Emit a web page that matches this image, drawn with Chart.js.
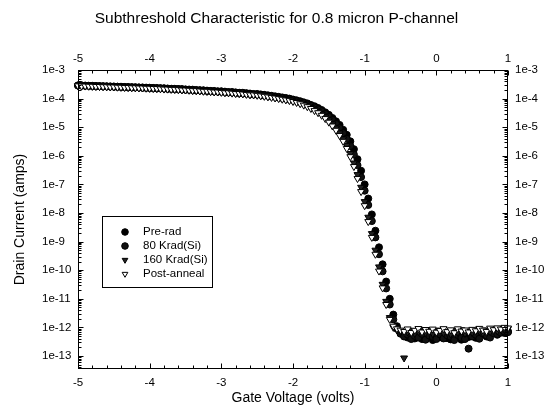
<!DOCTYPE html>
<html>
<head>
<meta charset="utf-8">
<script src="https://cdn.jsdelivr.net/npm/chart.js@4"></script>
<style>
  html, body { margin: 0; padding: 0; background: #fff; }
</style>
</head>
<body>
<canvas id="chart" width="553" height="417"></canvas>
<script>
// Gate voltage sweep (volts)
const gateVoltage = [-5,-4.95,-4.9,-4.85,-4.8,-4.75,-4.7,-4.65,-4.6,-4.55,-4.5,-4.45,-4.4,-4.35,-4.3,-4.25,-4.2,-4.15,-4.1,-4.05,
  -4,-3.95,-3.9,-3.85,-3.8,-3.75,-3.7,-3.65,-3.6,-3.55,-3.5,-3.45,-3.4,-3.35,-3.3,-3.25,-3.2,-3.15,-3.1,-3.05,
  -3,-2.95,-2.9,-2.85,-2.8,-2.75,-2.7,-2.65,-2.6,-2.55,-2.5,-2.45,-2.4,-2.35,-2.3,-2.25,-2.2,-2.15,-2.1,-2.05,
  -2,-1.95,-1.9,-1.85,-1.8,-1.75,-1.7,-1.65,-1.6,-1.55,-1.5,-1.45,-1.4,-1.35,-1.3,-1.25,-1.2,-1.15,-1.1,-1.05,
  -1,-0.95,-0.9,-0.85,-0.8,-0.75,-0.7,-0.65,-0.6,-0.55,-0.5,-0.45,-0.4,-0.35,-0.3,-0.25,-0.2,-0.15,-0.1,-0.05,
  0,0.05,0.1,0.15,0.2,0.25,0.3,0.35,0.4,0.45,0.5,0.55,0.6,0.65,0.7,0.75,0.8,0.85,0.9,0.95,1];

// Drain current (amps) for each run
const preRad = [2.9e-4,2.9e-4,2.85e-4,2.8e-4,2.8e-4,2.75e-4,2.75e-4,2.7e-4,2.7e-4,2.65e-4,
  2.65e-4,2.6e-4,2.6e-4,2.55e-4,2.55e-4,2.5e-4,2.5e-4,2.45e-4,2.45e-4,2.4e-4,
  2.4e-4,2.35e-4,2.35e-4,2.3e-4,2.3e-4,2.25e-4,2.2e-4,2.2e-4,2.15e-4,2.15e-4,
  2.1e-4,2.05e-4,2.05e-4,2.0e-4,1.95e-4,1.95e-4,1.9e-4,1.85e-4,1.85e-4,1.8e-4,
  1.8e-4,1.75e-4,1.7e-4,1.7e-4,1.65e-4,1.6e-4,1.6e-4,1.55e-4,1.5e-4,1.45e-4,
  1.45e-4,1.4e-4,1.35e-4,1.3e-4,1.25e-4,1.2e-4,1.15e-4,1.1e-4,1.05e-4,1.0e-4,
  9.3e-5,8.7e-5,8.1e-5,7.4e-5,6.8e-5,6.0e-5,5.4e-5,4.7e-5,4.0e-5,3.3e-5,
  2.7e-5,2.1e-5,1.6e-5,1.2e-5,8.1e-6,5.4e-6,3.2e-6,1.7e-6,7.6e-7,3.0e-7,
  1.0e-7,3.2e-8,8.9e-9,2.4e-9,6.3e-10,1.6e-10,4.0e-11,1.0e-11,2.8e-12,1.1e-12,
  6.5e-13,5.2e-13,4.4e-13,5.8e-13,4.1e-13,5.5e-13,3.9e-13,6.1e-13,4.7e-13,3.6e-13,
  5.3e-13,4.5e-13,6.0e-13,4.2e-13,3.8e-13,5.6e-13,4.9e-13,3.7e-13,5.1e-13,4.6e-13,
  5.9e-13,4.3e-13,5.4e-13,6.3e-13,4.8e-13,5.7e-13,6.6e-13,5.5e-13,7.0e-13,6.4e-13,
  7.2e-13];

const krad80 = [2.85e-4,2.85e-4,2.8e-4,2.8e-4,2.75e-4,2.75e-4,2.7e-4,2.7e-4,2.65e-4,2.65e-4,
  2.6e-4,2.6e-4,2.55e-4,2.55e-4,2.5e-4,2.5e-4,2.45e-4,2.45e-4,2.4e-4,2.4e-4,
  2.35e-4,2.35e-4,2.3e-4,2.3e-4,2.25e-4,2.2e-4,2.2e-4,2.15e-4,2.15e-4,2.1e-4,
  2.05e-4,2.05e-4,2.0e-4,1.95e-4,1.95e-4,1.9e-4,1.85e-4,1.85e-4,1.8e-4,1.75e-4,
  1.75e-4,1.7e-4,1.65e-4,1.65e-4,1.6e-4,1.55e-4,1.55e-4,1.5e-4,1.45e-4,1.4e-4,
  1.4e-4,1.35e-4,1.3e-4,1.25e-4,1.2e-4,1.15e-4,1.1e-4,1.05e-4,1.0e-4,9.5e-5,
  8.9e-5,8.3e-5,7.6e-5,7.0e-5,6.3e-5,5.6e-5,4.9e-5,4.2e-5,3.6e-5,2.9e-5,
  2.3e-5,1.8e-5,1.3e-5,9.3e-6,6.2e-6,3.9e-6,2.2e-6,1.1e-6,4.7e-7,1.8e-7,
  6.0e-8,1.9e-8,5.2e-9,1.4e-9,3.6e-10,9.1e-11,2.3e-11,6.3e-12,1.9e-12,9.0e-13,
  6.0e-13,4.8e-13,5.6e-13,3.9e-13,5.0e-13,4.4e-13,5.9e-13,3.7e-13,5.2e-13,4.6e-13,
  3.9e-13,5.7e-13,4.1e-13,5.3e-13,4.7e-13,3.6e-13,5.4e-13,4.3e-13,3.9e-13,1.8e-13,
  4.8e-13,5.5e-13,4.0e-13,6.1e-13,5.2e-13,4.4e-13,6.2e-13,5.8e-13,6.5e-13,7.1e-13,
  6.8e-13];

const krad160 = [2.8e-4,2.8e-4,2.75e-4,2.75e-4,2.7e-4,2.7e-4,2.65e-4,2.65e-4,2.6e-4,2.6e-4,
  2.55e-4,2.55e-4,2.5e-4,2.5e-4,2.45e-4,2.45e-4,2.4e-4,2.4e-4,2.35e-4,2.35e-4,
  2.3e-4,2.3e-4,2.25e-4,2.25e-4,2.2e-4,2.15e-4,2.15e-4,2.1e-4,2.1e-4,2.05e-4,
  2.0e-4,2.0e-4,1.95e-4,1.9e-4,1.9e-4,1.85e-4,1.8e-4,1.8e-4,1.75e-4,1.7e-4,
  1.7e-4,1.65e-4,1.6e-4,1.6e-4,1.55e-4,1.5e-4,1.5e-4,1.45e-4,1.4e-4,1.35e-4,
  1.35e-4,1.3e-4,1.25e-4,1.2e-4,1.15e-4,1.1e-4,1.05e-4,1.0e-4,9.5e-5,9.0e-5,
  8.3e-5,7.7e-5,7.0e-5,6.3e-5,5.6e-5,4.9e-5,4.2e-5,3.5e-5,2.9e-5,2.3e-5,
  1.8e-5,1.3e-5,9.3e-6,6.3e-6,3.9e-6,2.3e-6,1.2e-6,5.6e-7,2.2e-7,7.9e-8,
  2.5e-8,7.1e-9,1.9e-9,5.0e-10,1.3e-10,3.2e-11,8.1e-12,2.2e-12,1.0e-12,8.1e-13,
  7.4e-13,8.5e-14,6.9e-13,7.8e-13,6.2e-13,7.1e-13,8.3e-13,6.5e-13,7.6e-13,6.0e-13,
  7.3e-13,8.0e-13,6.4e-13,7.0e-13,5.8e-13,7.7e-13,6.7e-13,8.2e-13,6.1e-13,7.2e-13,
  6.6e-13,7.9e-13,7.4e-13,6.3e-13,8.1e-13,7.0e-13,8.6e-13,7.5e-13,8.8e-13,8.3e-13,
  9.0e-13];

const postAnneal = [2.8e-4,2.75e-4,2.75e-4,2.7e-4,2.7e-4,2.65e-4,2.65e-4,2.6e-4,2.6e-4,2.55e-4,
  2.55e-4,2.5e-4,2.5e-4,2.45e-4,2.45e-4,2.4e-4,2.4e-4,2.35e-4,2.35e-4,2.3e-4,
  2.3e-4,2.25e-4,2.25e-4,2.2e-4,2.15e-4,2.15e-4,2.1e-4,2.1e-4,2.05e-4,2.0e-4,
  2.0e-4,1.95e-4,1.9e-4,1.9e-4,1.85e-4,1.8e-4,1.8e-4,1.75e-4,1.7e-4,1.7e-4,
  1.65e-4,1.6e-4,1.6e-4,1.55e-4,1.5e-4,1.5e-4,1.45e-4,1.4e-4,1.35e-4,1.35e-4,
  1.3e-4,1.25e-4,1.2e-4,1.15e-4,1.1e-4,1.05e-4,1.0e-4,9.5e-5,9.0e-5,8.5e-5,
  7.9e-5,7.3e-5,6.6e-5,5.9e-5,5.2e-5,4.5e-5,3.8e-5,3.2e-5,2.6e-5,2.0e-5,
  1.5e-5,1.1e-5,7.8e-6,5.1e-6,3.2e-6,1.8e-6,9.3e-7,4.2e-7,1.6e-7,5.6e-8,
  1.8e-8,5.0e-9,1.4e-9,3.6e-10,9.3e-11,2.4e-11,6.3e-12,1.9e-12,1.1e-12,8.9e-13,
  8.0e-13,7.2e-13,8.8e-13,6.6e-13,7.9e-13,9.1e-13,6.9e-13,8.4e-13,7.3e-13,8.7e-13,
  6.8e-13,7.8e-13,9.0e-13,7.1e-13,8.2e-13,6.5e-13,8.9e-13,7.4e-13,8.1e-13,6.9e-13,
  8.5e-13,7.6e-13,9.2e-13,8.0e-13,7.2e-13,9.4e-13,8.3e-13,9.6e-13,8.7e-13,1.0e-12,
  9.5e-13];

const seriesNames = ["Pre-rad", "80 Krad(Si)", "160 Krad(Si)", "Post-anneal"];

// Axis ticks and labels
const xTicks = [-5, -4, -3, -2, -1, 0, 1];
const xTickLabels = ["-5", "-4", "-3", "-2", "-1", "0", "1"];
const yTicks = [1e-13, 1e-12, 1e-11, 1e-10, 1e-9, 1e-8, 1e-7, 1e-6, 1e-5, 1e-4, 1e-3];
const yTickLabels = ["1e-13", "1e-12", "1e-11", "1e-10", "1e-9", "1e-8", "1e-7", "1e-6", "1e-5", "1e-4", "1e-3"];

const FONT = "Arial, 'Liberation Sans', sans-serif";
Chart.defaults.font.family = FONT;
Chart.defaults.color = "#000";

const Y_MIN = 3.5e-14, Y_MAX = 1e-3;

function pointsOf(values) {
  return gateVoltage.map((v, i) => ({ x: v, y: values[i] }));
}

// frame with inward tick marks on all four sides
const frameTicks = {
  id: "frameTicks",
  afterDatasetsDraw(chart) {
    const { ctx, chartArea: a } = chart;
    const xs = chart.scales.x, ys = chart.scales.y;
    const L = Math.round(a.left) + 0.5, R = Math.round(a.right) - 0.5;
    const T = Math.round(a.top) + 0.5, B = Math.round(a.bottom) - 0.5;
    ctx.save();
    ctx.strokeStyle = "#000";
    ctx.lineWidth = 1;
    ctx.strokeRect(L, T, R - L, B - T);
    ctx.beginPath();
    for (let k = 0; k <= 30; k++) {
      const px = Math.round(xs.getPixelForValue(-5 + k * 0.2)) + 0.5;
      const len = k % 5 === 0 ? 5 : 3;
      ctx.moveTo(px, B); ctx.lineTo(px, B - len);
      ctx.moveTo(px, T); ctx.lineTo(px, T + len);
    }
    for (let n = -14; n <= -3; n++) {
      for (let m = 1; m <= 9; m++) {
        const v = m * Math.pow(10, n);
        if (v < Y_MIN || v > Y_MAX * 1.0001) continue;
        const py = Math.round(ys.getPixelForValue(v)) + 0.5;
        const len = m === 1 ? 5 : 3;
        ctx.moveTo(L, py); ctx.lineTo(L + len, py);
        ctx.moveTo(R, py); ctx.lineTo(R - len, py);
      }
    }
    ctx.stroke();
    ctx.restore();
  }
};

// legend box drawn inside the plot
const insetLegend = {
  id: "insetLegend",
  afterDraw(chart) {
    const ctx = chart.ctx;
    const bx = 102.5, by = 216.5, bw = 110, bh = 71;
    ctx.save();
    ctx.fillStyle = "#fff";
    ctx.fillRect(bx, by, bw, bh);
    ctx.strokeStyle = "#000";
    ctx.lineWidth = 1;
    ctx.strokeRect(bx, by, bw, bh);
    ctx.font = "11.5px " + FONT;
    ctx.textBaseline = "middle";
    chart.data.datasets.forEach((ds, i) => {
      const y = 232 + i * 14;
      ctx.fillStyle = ds.backgroundColor;
      ctx.strokeStyle = ds.borderColor;
      Chart.helpers.drawPoint(ctx, {
        pointStyle: ds.pointStyle,
        rotation: ds.pointRotation || 0,
        radius: 3.3,
        borderWidth: 1
      }, 125, y);
      ctx.fillStyle = "#000";
      ctx.fillText(ds.label, 143, y);
    });
    ctx.restore();
  }
};

const tickFont = { size: 11.5 };
const noGrid = { display: false, drawTicks: false };

new Chart(document.getElementById("chart"), {
  type: "scatter",
  data: {
    datasets: [
      { label: seriesNames[0], data: pointsOf(preRad), pointStyle: "circle", pointRadius: 3.5,
        backgroundColor: "#000", borderColor: "#000", borderWidth: 1, order: 4, clip: false },
      { label: seriesNames[1], data: pointsOf(krad80), pointStyle: "circle", pointRadius: 3.5,
        backgroundColor: "#111", borderColor: "#000", borderWidth: 1, order: 3, clip: false },
      { label: seriesNames[2], data: pointsOf(krad160), pointStyle: "triangle", pointRotation: 180, pointRadius: 4,
        backgroundColor: "#222", borderColor: "#000", borderWidth: 1, order: 2, clip: false },
      { label: seriesNames[3], data: pointsOf(postAnneal), pointStyle: "triangle", pointRotation: 180, pointRadius: 4,
        backgroundColor: "#fff", borderColor: "#000", borderWidth: 1, order: 1, clip: false }
    ]
  },
  options: {
    responsive: false,
    animation: false,
    layout: { padding: 0 },
    plugins: {
      legend: { display: false },
      tooltip: { enabled: false },
      title: {
        display: true,
        text: "Subthreshold Characteristic for 0.8 micron P-channel",
        font: { size: 15.5, weight: "normal" },
        color: "#000",
        padding: { top: 9, bottom: 0 }
      }
    },
    scales: {
      x: {
        type: "linear", position: "bottom", min: -5, max: 1,
        afterBuildTicks: s => { s.ticks = xTicks.map(v => ({ value: v })); },
        ticks: { callback: (v, i) => xTickLabels[i], font: tickFont, padding: 7, maxRotation: 0, autoSkip: false },
        grid: noGrid, border: { display: false },
        title: { display: true, text: "Gate Voltage (volts)", font: { size: 14 }, padding: { top: 0, bottom: 10 } },
        afterFit: s => { s.height = 48; }
      },
      xTop: {
        type: "linear", position: "top", min: -5, max: 1,
        afterBuildTicks: s => { s.ticks = xTicks.map(v => ({ value: v })); },
        ticks: { callback: (v, i) => xTickLabels[i], font: tickFont, padding: 4, maxRotation: 0, autoSkip: false },
        grid: noGrid, border: { display: false },
        afterFit: s => { s.height = 42.4; }
      },
      y: {
        type: "logarithmic", position: "left", min: Y_MIN, max: Y_MAX, weight: 0,
        afterBuildTicks: s => { s.ticks = yTicks.map(v => ({ value: v })); },
        ticks: { callback: (v, i) => yTickLabels[i], font: tickFont, crossAlign: "far", autoSkip: false },
        grid: noGrid, border: { display: false },
        afterFit: s => { s.width = 36; }
      },
      yTitle: {
        type: "linear", position: "left", weight: 1,
        ticks: { display: false }, grid: noGrid, border: { display: false },
        title: { display: true, text: "Drain Current (amps)", font: { size: 14 }, padding: { top: 12, bottom: 0 } },
        afterFit: s => { s.width = 42; }
      },
      yRight: {
        type: "logarithmic", position: "right", min: Y_MIN, max: Y_MAX,
        afterBuildTicks: s => { s.ticks = yTicks.map(v => ({ value: v })); },
        ticks: { callback: (v, i) => yTickLabels[i], font: tickFont, padding: 7, autoSkip: false },
        grid: noGrid, border: { display: false },
        afterFit: s => { s.width = 45; }
      }
    }
  },
  plugins: [frameTicks, insetLegend]
});
</script>
</body>
</html>
